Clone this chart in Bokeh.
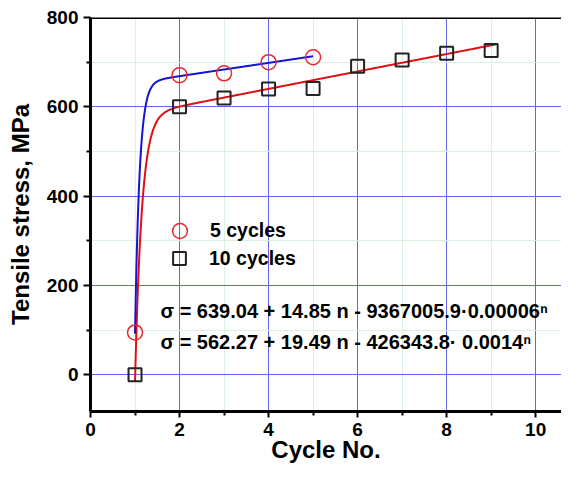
import numpy as np
from bokeh.plotting import figure
from bokeh.models import FixedTicker, Span, Legend, LegendItem, Label, Range1d
from bokeh.embed import file_html
from bokeh.resources import INLINE

# ---- data ----
cycles_5 = [1, 2, 3, 4, 5]
stress_5 = [95, 671, 675, 700, 711]
cycles_10 = [1, 2, 3, 4, 5, 6, 7, 8, 9]
stress_10 = [0, 600, 620, 640, 641, 691, 705, 720, 726]

# fit coefficients printed on the chart: sigma = a + b*n - c*d**n
fit_5 = [639.04, 14.85, 9367005.9, 0.00006]
fit_10 = [562.27, 19.49, 426343.8, 0.0014]
fit_5_span = [1.0, 5.0]
fit_10_span = [1.0, 9.15]

x_ticks = [0, 2, 4, 6, 8, 10]
x_minor = [1, 3, 5, 7, 9]
y_ticks = [0, 200, 400, 600, 800]
y_minor = [-100, 100, 300, 500, 700]

x_title = "Cycle No."
y_title = "Tensile stress, MPa"
eq_5 = "\u03c3 = 639.04 + 14.85 n - 9367005.9\u00b70.00006\u207f"
eq_10 = "\u03c3 = 562.27 + 19.49 n - 426343.8\u00b7 0.0014\u207f"

FONT = "Liberation Sans"

p = figure(width=561, height=465, x_range=Range1d(0, 10.58), y_range=Range1d(-82, 800),
           output_backend="svg", toolbar_location=None,
           min_border_left=90, min_border_top=17, min_border_right=0, min_border_bottom=50)
p.outline_line_color = None
p.background_fill_color = "white"
p.border_fill_color = "white"

# grids
p.xgrid.ticker = FixedTicker(ticks=x_ticks, minor_ticks=x_minor)
p.ygrid.ticker = FixedTicker(ticks=y_ticks, minor_ticks=y_minor)
for g in (p.xgrid, p.ygrid):
    g.grid_line_color = "#6464e8"
    g.grid_line_width = 1
    g.minor_grid_line_color = "#ddf0dd"
    g.minor_grid_line_width = 1

# axes
p.xaxis.ticker = FixedTicker(ticks=x_ticks, minor_ticks=x_minor)
p.yaxis.ticker = FixedTicker(ticks=y_ticks, minor_ticks=y_minor)
for ax in (p.xaxis, p.yaxis):
    ax.axis_line_width = 3
    ax.axis_line_color = "black"
    ax.major_tick_line_width = 2
    ax.major_tick_line_color = "black"
    ax.major_tick_in = 0
    ax.minor_tick_in = 0
    ax.minor_tick_out = 4
    ax.minor_tick_line_width = 2
    ax.minor_tick_line_color = "black"
    ax.major_label_text_font = FONT
    ax.major_label_text_font_style = "bold"
    ax.major_label_text_font_size = "19px"
    ax.major_label_text_color = "black"
    ax.axis_label_text_font = FONT
    ax.axis_label_text_font_style = "bold"
    ax.axis_label_text_font_size = "24px"
    ax.axis_label_text_color = "black"
p.xaxis.major_tick_out = 6
p.xaxis.major_label_standoff = 5
p.xaxis.axis_label = x_title
p.xaxis.axis_label_standoff = -3
p.yaxis.major_tick_out = 7
p.yaxis.major_label_standoff = 5
p.yaxis.axis_label = y_title
p.yaxis.axis_label_standoff = 10

# top frame line
p.add_layout(Span(location=800, dimension="width", line_width=3, line_color="black"))

# fitted curves from the printed equations
n5 = np.linspace(fit_5_span[0], fit_5_span[1], 600)
s5 = fit_5[0] + fit_5[1] * n5 - fit_5[2] * fit_5[3] ** n5
n10 = np.linspace(fit_10_span[0], fit_10_span[1], 600)
s10 = fit_10[0] + fit_10[1] * n10 - fit_10[2] * fit_10[3] ** n10
p.line(n10, s10, line_color="#e01010", line_width=2)
p.line(n5, s5, line_color="#1414d2", line_width=2)

# measured points
r5 = p.scatter(cycles_5, stress_5, marker="circle", size=15, fill_color=None,
               line_color="#e8262c", line_width=1.5)
r10 = p.scatter(cycles_10, stress_10, marker="square", size=13, fill_color=None,
                line_color="#222222", line_width=2)

legend_kw = dict(padding=0, margin=0, border_line_color=None, background_fill_alpha=0,
                 label_text_font=FONT, label_text_font_style="bold", label_text_color="black",
                 label_text_font_size="19.5px", label_height=20)
# legends positioned in screen px from the frame's bottom-left corner
p.add_layout(Legend(items=[LegendItem(label="5 cycles", renderers=[r5])],
                    location=(71, 162), glyph_width=37, glyph_height=37,
                    label_standoff=12, **legend_kw))
p.add_layout(Legend(items=[LegendItem(label="10 cycles", renderers=[r10])],
                    location=(73, 137), glyph_width=32, glyph_height=32,
                    label_standoff=14, **legend_kw))

for txt, yv in ((eq_5, 143), (eq_10, 74)):
    p.add_layout(Label(x=1.57, y=yv, text=txt, text_font=FONT, text_font_style="bold",
                       text_font_size="20px", text_baseline="middle", text_color="black"))

open("out.html", "w").write(file_html(p, INLINE))
